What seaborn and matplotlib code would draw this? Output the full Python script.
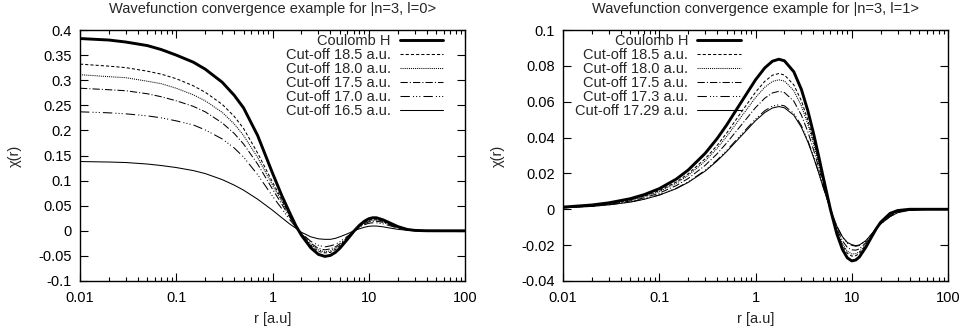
import numpy as np
import pandas as pd
import matplotlib
matplotlib.use("Agg")
import matplotlib.pyplot as plt
import seaborn as sns
from matplotlib.ticker import LogLocator, FixedLocator, NullFormatter

# --- radial grid for |n=3, l=0> panel
r_s = [0.01, 0.02, 0.03, 0.05, 0.07, 0.1, 0.15, 0.2, 0.3, 0.4, 0.5, 0.7, 1.0, 1.25,
       1.5, 1.75, 2.0, 2.5, 3.0, 3.5, 4.0, 4.5, 5.0, 6.0, 7.0, 8.0, 9.0, 10, 11, 12,
       14, 16, 20, 25, 30, 40, 60, 100]
s_coulomb = [0.383, 0.380, 0.376, 0.369, 0.361, 0.350, 0.336, 0.322, 0.296, 0.270, 0.245,
             0.190, 0.115, 0.070, 0.037, 0.010, -0.009, -0.034, -0.047, -0.051, -0.049,
             -0.043, -0.035, -0.017, -0.001, 0.011, 0.019, 0.024, 0.026, 0.026, 0.022,
             0.017, 0.0085, 0.0028, 0.0008, 0.0001, 0, 0]
s_185 = [0.332, 0.328, 0.325, 0.318, 0.312, 0.303, 0.289, 0.276, 0.252, 0.228, 0.204,
         0.155, 0.097, 0.062, 0.032, 0.009, -0.008, -0.030, -0.041, -0.044, -0.043,
         -0.037, -0.030, -0.015, -0.001, 0.010, 0.017, 0.021, 0.023, 0.023, 0.019,
         0.015, 0.0074, 0.0024, 0.0007, 0.0001, 0, 0]
s_180 = [0.311, 0.307, 0.305, 0.298, 0.293, 0.284, 0.271, 0.259, 0.236, 0.213, 0.190,
         0.146, 0.091, 0.058, 0.030, 0.009, -0.007, -0.028, -0.038, -0.042, -0.040,
         -0.035, -0.029, -0.014, -0.001, 0.009, 0.016, 0.020, 0.021, 0.021, 0.018,
         0.014, 0.0069, 0.0023, 0.0007, 0.0001, 0, 0]
s_175 = [0.284, 0.281, 0.279, 0.273, 0.267, 0.259, 0.248, 0.237, 0.215, 0.194, 0.173,
         0.133, 0.083, 0.053, 0.028, 0.008, -0.006, -0.025, -0.035, -0.038, -0.036,
         -0.032, -0.026, -0.013, -0.001, 0.008, 0.014, 0.018, 0.019, 0.019, 0.017,
         0.013, 0.0063, 0.0021, 0.0006, 0.0001, 0, 0]
s_170 = [0.237, 0.235, 0.233, 0.229, 0.225, 0.219, 0.211, 0.201, 0.183, 0.165, 0.147,
         0.112, 0.069, 0.044, 0.023, 0.007, -0.005, -0.021, -0.029, -0.032, -0.030,
         -0.027, -0.022, -0.011, -0.001, 0.007, 0.012, 0.015, 0.016, 0.016, 0.014,
         0.011, 0.0053, 0.0017, 0.0005, 0.0001, 0, 0]
s_165 = [0.138, 0.137, 0.136, 0.133, 0.130, 0.126, 0.120, 0.114, 0.102, 0.091, 0.081,
         0.063, 0.041, 0.026, 0.014, 0.005, -0.003, -0.012, -0.016, -0.017, -0.017,
         -0.015, -0.012, -0.006, 0.000, 0.004, 0.007, 0.009, 0.0095, 0.0095, 0.008,
         0.006, 0.003, 0.001, 0.0003, 0, 0, 0]

# --- radial grid for |n=3, l=1> panel
r_p = [0.01, 0.02, 0.03, 0.05, 0.07, 0.1, 0.15, 0.2, 0.3, 0.4, 0.5, 0.7, 1.0, 1.25,
       1.5, 1.75, 2.0, 2.5, 3.0, 3.5, 4.0, 4.5, 5.0, 6.0, 7.0, 8.0, 9.0, 10, 11, 12,
       14, 16, 18, 20, 25, 30, 40, 60, 100]
p_coulomb = [0.0012, 0.0024, 0.0036, 0.0059, 0.0082, 0.0115, 0.0168, 0.0219, 0.0312,
             0.0395, 0.0469, 0.0592, 0.0722, 0.0789, 0.0826, 0.0837, 0.0828, 0.0767,
             0.0668, 0.0549, 0.0425, 0.0304, 0.0190, 0, -0.0137, -0.0224, -0.0271,
             -0.0288, -0.0283, -0.0266, -0.0212, -0.0156, -0.0108, -0.0072, -0.0023,
             -0.0007, 0, 0, 0]
p_185 = [0.0011, 0.0022, 0.0033, 0.0053, 0.0074, 0.0104, 0.0152, 0.0198, 0.0282, 0.0357,
         0.0424, 0.0536, 0.0653, 0.0714, 0.0748, 0.0757, 0.0749, 0.0694, 0.0605, 0.0497,
         0.0385, 0.0275, 0.0172, 0, -0.0124, -0.0203, -0.0245, -0.0261, -0.0259, -0.0246,
         -0.0201, -0.0151, -0.0107, -0.0075, -0.0028, -0.0010, -0.0002, 0, 0]
p_180 = [0.0010, 0.0021, 0.0031, 0.0051, 0.0071, 0.0099, 0.0145, 0.0189, 0.0269, 0.0341,
         0.0405, 0.0511, 0.0623, 0.0681, 0.0713, 0.0722, 0.0715, 0.0662, 0.0576, 0.0474,
         0.0367, 0.0262, 0.0164, 0, -0.0118, -0.0193, -0.0234, -0.0249, -0.0248, -0.0237,
         -0.0196, -0.0149, -0.0106, -0.0077, -0.0031, -0.0012, -0.0003, 0, 0]
p_175 = [0.0009, 0.0019, 0.0028, 0.0046, 0.0064, 0.0090, 0.0132, 0.0172, 0.0245, 0.0310,
         0.0369, 0.0465, 0.0567, 0.0620, 0.0649, 0.0658, 0.0651, 0.0603, 0.0525, 0.0432,
         0.0334, 0.0239, 0.0149, 0, -0.0108, -0.0176, -0.0213, -0.0226, -0.0228, -0.0221,
         -0.0187, -0.0145, -0.0106, -0.0079, -0.0035, -0.0014, -0.0004, -0.0001, 0]
p_173 = [0.0008, 0.0017, 0.0025, 0.0041, 0.0057, 0.0080, 0.0117, 0.0153, 0.0217, 0.0275,
         0.0327, 0.0413, 0.0503, 0.0550, 0.0576, 0.0583, 0.0577, 0.0535, 0.0466, 0.0383,
         0.0296, 0.0212, 0.0132, 0, -0.0095, -0.0156, -0.0189, -0.0201, -0.0206, -0.0202,
         -0.0177, -0.0140, -0.0105, -0.0081, -0.0040, -0.0018, -0.0005, -0.0001, 0]
p_1729 = [0.0008, 0.0016, 0.0025, 0.0040, 0.0056, 0.0079, 0.0115, 0.0150, 0.0213, 0.0270,
          0.0321, 0.0405, 0.0494, 0.0540, 0.0565, 0.0573, 0.0566, 0.0525, 0.0457, 0.0376,
          0.0291, 0.0208, 0.0130, 0, -0.0094, -0.0153, -0.0185, -0.0197, -0.0203, -0.0199,
          -0.0175, -0.0140, -0.0105, -0.0082, -0.0041, -0.0019, -0.0005, -0.0001, 0]

labels_s = ["Coulomb H", "Cut-off 18.5 a.u.", "Cut-off 18.0 a.u.", "Cut-off 17.5 a.u.",
            "Cut-off 17.0 a.u.", "Cut-off 16.5 a.u."]
labels_p = ["Coulomb H", "Cut-off 18.5 a.u.", "Cut-off 18.0 a.u.", "Cut-off 17.5 a.u.",
            "Cut-off 17.3 a.u.", "Cut-off 17.29 a.u."]

yt_s = [-0.1, -0.05, 0, 0.05, 0.1, 0.15, 0.2, 0.25, 0.3, 0.35, 0.4]
yt_s_lab = ["-0.1", "-0.05", "0", "0.05", "0.1", "0.15", "0.2", "0.25", "0.3", "0.35", "0.4"]
yt_p = [-0.04, -0.02, 0, 0.02, 0.04, 0.06, 0.08, 0.1]
yt_p_lab = ["-0.04", "-0.02", "0", "0.02", "0.04", "0.06", "0.08", "0.1"]
xt = [0.01, 0.1, 1, 10, 100]
xt_lab = ["0.01", "0.1", "1", "10", "100"]

# gnuplot-like monochrome line types
styles = [
    dict(lw=2.1, ls="-"),
    dict(lw=0.75, ls=(0, (3, 2))),
    dict(lw=0.75, ls=(0, (1, 1))),
    dict(lw=0.75, ls=(0, (7, 2, 1, 2))),
    dict(lw=0.75, ls=(0, (9, 3, 1, 2, 1, 2, 1, 3))),
    dict(lw=0.75, ls="-"),
]

FS = 10.5
sns.set_theme(style="ticks")
plt.rcParams["font.family"] = ["Liberation Sans", "DejaVu Sans"]
plt.rcParams["font.size"] = FS


def draw_panel(ax, r, series, labels, yt, yt_lab, ylim, title, legend_loc, anchor):
    for vals, lab, st in zip(series, labels, styles):
        df = pd.DataFrame({"r": r, "chi": vals})
        sns.lineplot(data=df, x="r", y="chi", ax=ax, color="black", label=lab,
                     linewidth=st["lw"], linestyle=st["ls"])
    ax.set_xscale("log")
    ax.set_xlim(0.01, 100)
    ax.set_ylim(*ylim)
    ax.xaxis.set_major_locator(FixedLocator(xt))
    ax.set_xticklabels(xt_lab)
    ax.xaxis.set_minor_locator(LogLocator(base=10, subs=np.arange(2, 10)))
    ax.xaxis.set_minor_formatter(NullFormatter())
    ax.set_yticks(yt)
    ax.set_yticklabels(yt_lab)
    ax.tick_params(which="both", direction="in", top=True, right=True, colors="black",
                   labelsize=FS, width=0.8)
    ax.tick_params(axis="x", which="both", pad=7)
    ax.tick_params(axis="y", which="both", pad=6)
    ax.tick_params(which="major", length=6)
    ax.tick_params(which="minor", length=3)
    for sp in ax.spines.values():
        sp.set_color("black")
        sp.set_linewidth(1.0)
    ax.set_xlabel("r [a.u]", fontsize=FS, labelpad=5)
    ax.set_ylabel("χ(r)", fontsize=FS, labelpad=12)
    ax.set_title(title, fontsize=FS, pad=12)
    ax.legend(loc=legend_loc, bbox_to_anchor=anchor, frameon=False, markerfirst=False,
              fontsize=FS, handlelength=3.0, handletextpad=0.6, labelspacing=0.0,
              borderaxespad=0.0, borderpad=0.3)


fig = plt.figure(figsize=(9.71, 3.35), dpi=100)
ax1 = fig.add_axes([80 / 971, 54 / 335, 385 / 971, 251 / 335])
ax2 = fig.add_axes([563 / 971, 54 / 335, 385 / 971, 251 / 335])

draw_panel(ax1, r_s, [s_coulomb, s_185, s_180, s_175, s_170, s_165], labels_s,
           yt_s, yt_s_lab, (-0.1, 0.4),
           "Wavefunction convergence example for |n=3, l=0>", "upper right", (0.955, 1.0))
draw_panel(ax2, r_p, [p_coulomb, p_185, p_180, p_175, p_173, p_1729], labels_p,
           yt_p, yt_p_lab, (-0.04, 0.1),
           "Wavefunction convergence example for |n=3, l=1>", "upper left", (0.02, 1.0))

fig.savefig("out.png", dpi=100)
